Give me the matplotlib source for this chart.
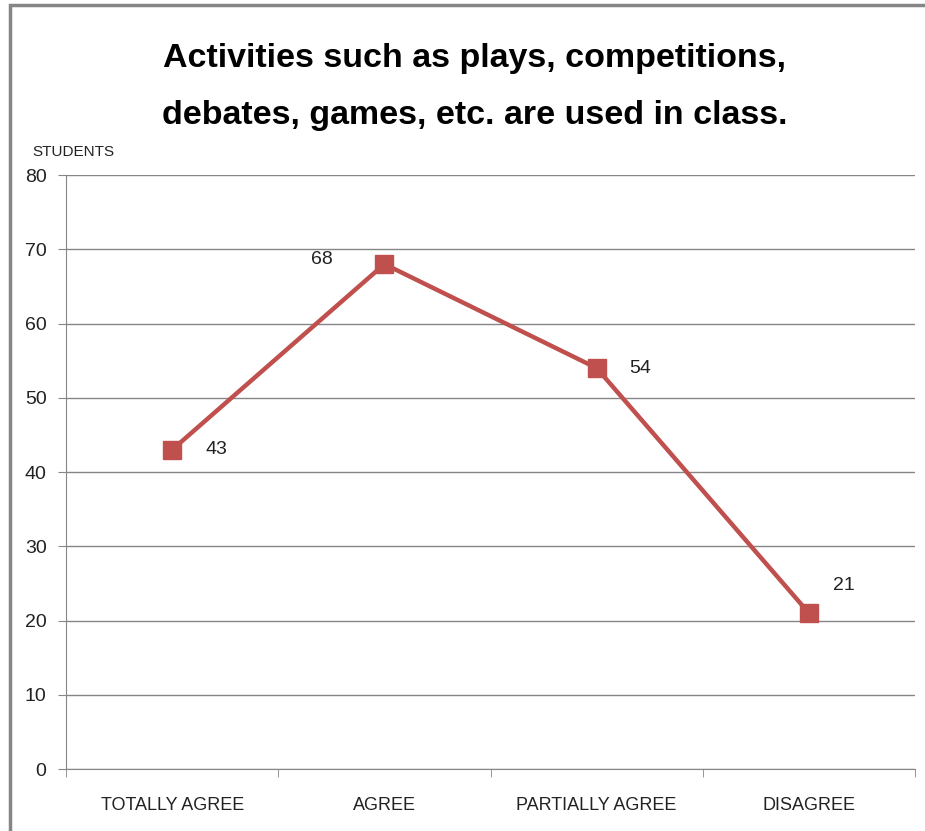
import matplotlib
matplotlib.use("Agg")
import matplotlib.pyplot as plt
from matplotlib.patches import Rectangle

plt.rcParams['font.family'] = ['Liberation Sans', 'DejaVu Sans']

# data
categories = ['TOTALLY AGREE', 'AGREE', 'PARTIALLY AGREE', 'DISAGREE']
students = [43, 68, 54, 21]
label_offsets = [(32, 0), (-45, 3), (31, 0), (25, 20)]

red = '#C0504D'
grey = '#868686'

fig = plt.figure(figsize=(9.25, 8.31), dpi=100)
ax = fig.add_axes([0.0714, 0.0746, 0.9178, 0.7148])

x = range(len(categories))
ax.plot(x, students, color=red, lw=3.2, marker='s', markersize=13,
        markerfacecolor=red, markeredgecolor=red)

for i, v in enumerate(students):
    ax.annotate(str(v), (i, v), xytext=label_offsets[i], textcoords='offset points',
                ha='center', va='center', fontsize=14, color='#222222')

ax.set_ylim(0, 80)
ax.set_xlim(-0.5, len(categories) - 0.5)
ax.set_yticks(range(0, 81, 10))
ax.set_xticks(list(x))
ax.set_xticklabels(categories)
ax.set_xticks([i - 0.5 for i in range(len(categories) + 1)], minor=True)
ax.tick_params(axis='x', which='major', length=0, pad=20, labelsize=13, labelcolor='#222222')
ax.tick_params(axis='x', which='minor', length=6, color=grey, direction='out')
ax.tick_params(axis='y', length=6, color=grey, labelsize=14, labelcolor='#222222', pad=8)

ax.grid(axis='y', color=grey, lw=1)
ax.set_axisbelow(True)
for s in ['top', 'right']:
    ax.spines[s].set_visible(False)
ax.spines['left'].set_color(grey)
ax.spines['bottom'].set_color(grey)

ax.text(-0.04, 1.027, 'STUDENTS', transform=ax.transAxes, fontsize=11,
        ha='left', va='bottom', color='#222222')

fig.text(0.513, 0.8955, 'Activities such as plays, competitions,\ndebates, games, etc. are used in class.',
         ha='center', va='center', fontsize=24.5, fontweight='bold', linespacing=2.1)

# chart border
fig.patches.append(Rectangle((10 / 925, -0.1), 1.2, 1.1 - 5 / 831, transform=fig.transFigure,
                             fill=False, edgecolor=grey, lw=2.5))

fig.savefig('out.png', dpi=100)
